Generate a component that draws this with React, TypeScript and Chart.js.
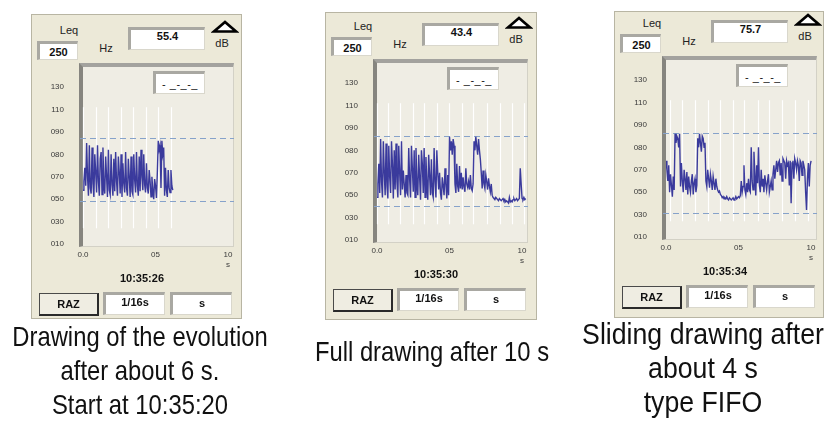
import React, { useEffect, useRef } from 'react';
import { Chart, registerables } from 'chart.js';

Chart.register(...registerables);

// ---------------- data ----------------
const Y_TICK_LABELS = ['010', '030', '050', '070', '080', '090', '110', '130'];
const Y_TICK_DB = [10, 30, 50, 70, 80, 90, 110, 130];
const X_TICKS = [0, 5, 10];
const X_TICK_LABELS: (string | string[])[] = ['0.0', '05', ['10', 's']];
const SAMPLE_STEP = 1 / 16; // seconds between samples (1/16 s)

// Leq (dB) read from the three screens
const LEQ_6S = [
  58, 66, 74,
  62, 85, 70, 53, 84, 60, 55, 83, 64,
  52, 80, 72, 56, 84, 66, 53, 78, 81, 54, 83, 62, 55, 79, 70, 52, 82, 58,
  54, 80, 63, 53, 78,
  57, 81, 66, 53, 79, 72, 55, 80, 52, 76, 64, 56, 81, 60, 53, 78, 70, 52, 79, 57, 54, 80, 67, 56, 81, 62, 53,
  79, 57, 82, 70, 58, 80, 63, 56,
  76, 60, 55, 73, 66, 52, 70, 58, 50, 68, 62, 51, 72,
  86, 82, 84, 60, 86, 80, 83, 53,
  74, 58, 52, 73, 60,
  56, 73, 62, 58,
];
const LEQ_10S = [
  48, 60, 74, 52,
  85, 62, 48, 84, 70, 50, 83, 58,
  47, 82, 66, 52, 84, 74, 47, 80, 55, 83, 62, 48, 82, 70, 50, 84,
  55, 71, 60, 48, 68, 52,
  50, 81, 64, 48, 82, 72, 53, 80, 48, 81, 60, 50, 78, 66, 46, 80, 74, 52, 81,
  48, 77, 60, 46, 78, 68, 50, 76, 52, 48,
  81, 62, 48, 80, 70, 55,
  70, 52, 46, 66, 58, 50, 72, 60, 47, 68, 50,
  86, 80, 84, 78, 85, 82, 60, 52,
  74, 58, 53, 73, 56,
  70, 55, 66, 57, 53, 72, 60, 57, 62, 55, 68, 56, 54, 60,
  84, 80, 86, 82, 78, 85, 80, 76, 70, 56,
  71, 60, 56, 68, 62, 55, 65, 58, 53, 60, 50,
  48, 47, 46, 48, 47, 46, 45, 47, 46, 45, 46, 47, 45, 46, 44, 45,
  44, 43, 48, 44, 45, 44,
  46, 47, 45, 46, 47, 45, 46, 47,
  72, 60, 47, 46, 48, 46, 47,
];
const LEQ_FIFO = [
  74, 70,
  60, 72, 50, 66, 56, 46, 64, 52,
  86, 82, 85, 84, 80, 86,
  55, 73, 60, 50, 70, 62, 52, 68,
  48, 64, 55, 50, 60, 66, 48, 58, 62, 50, 56,
  84, 80, 86, 82, 78, 85, 84, 80, 82, 60, 55,
  70, 62, 54, 66, 60, 52, 64, 58, 52, 62, 55,
  52, 50, 51, 48, 47,
  45, 46, 44, 45, 44, 46, 44, 43, 45, 44, 43, 44, 45, 43, 44, 46, 44, 45,
  46, 45, 47,
  60, 50, 55, 72, 52, 48, 58, 50, 62, 52, 50,
  80, 60, 52, 78, 66, 47, 72, 58, 80, 56, 50,
  70, 55, 62, 50, 65, 58, 52, 60, 66, 50, 55, 60, 52,
  66, 72, 62, 70, 74, 68,
  73, 74, 65, 73, 60, 75, 74, 73, 62, 74, 72, 73, 56, 74, 40, 73, 74, 62, 75, 73, 70, 74, 72, 60, 74, 73, 65, 74, 72, 70,
  50, 34, 62, 73, 55, 72, 74,
];

// white vertical trace marks (seconds)
const GRID_6S = [0.02, 0.88, 1.74, 2.6, 3.47, 4.32, 5.19, 6.05];
const GRID_10S = [0, 0.79, 1.57, 2.48, 3.26, 4.17, 4.95, 5.86, 6.64, 7.55, 8.45, 9.34, 10.14];
const GRID_FIFO = [0.27, 1.08, 1.99, 2.91, 3.72, 4.59, 5.41, 6.35, 7.09, 8.0, 8.92, 9.76];
const GRID_DB_RANGE = [24, 112];

// dashed limit lines (dB)
const LIMITS_6S = [87.3, 48.2];
const LIMITS_10S = [86.4, 40.3];
const LIMITS_FIFO = [86.4, 31.8];

const FREQS = ['250', '250', '250'];
const VALUES = ['55.4', '43.4', '75.7'];
const CLOCKS = ['10:35:26', '10:35:30', '10:35:34'];
const CAPTIONS = [
  ['Drawing of the evolution', 'after about 6 s.', 'Start at 10:35:20'],
  ['Full drawing after 10 s'],
  ['Sliding drawing after', 'about 4 s', 'type FIFO'],
];

// ---------------- layout ----------------
const CW = 211;
const CH = 262;
const AREA = { left: 52, top: 52, right: 202, bottom: 232 };
const Y_MIN = -0.09;
const Y_MAX = 7.94;
const X_MAX = 10.34;
const PANEL_BG = '#ECE9D8';
const UI_FONT = '"Liberation Sans", Arial, sans-serif';

type PanelCfg = {
  cx: number; cy: number; box: number[];
  leq: number[]; grid: number[]; limits: number[];
  freq: string; value: string; clock: string;
};

const PANELS: PanelCfg[] = [
  { cx: 31, cy: 14, box: [31, 14, 211, 305], leq: LEQ_6S, grid: GRID_6S, limits: LIMITS_6S, freq: FREQS[0], value: VALUES[0], clock: CLOCKS[0] },
  { cx: 325, cy: 10, box: [325, 12, 212, 308], leq: LEQ_10S, grid: GRID_10S, limits: LIMITS_10S, freq: FREQS[1], value: VALUES[1], clock: CLOCKS[1] },
  { cx: 614, cy: 7, box: [614, 11, 210, 307], leq: LEQ_FIFO, grid: GRID_FIFO, limits: LIMITS_FIFO, freq: FREQS[2], value: VALUES[2], clock: CLOCKS[2] },
];

const CAPTION_STYLE = [
  { x: 140, y: 320, size: 28, sx: 0.85 },
  { x: 432, y: 335, size: 28, sx: 0.85 },
  { x: 703, y: 317, size: 29, sx: 0.92 },
];

function toAxis(db: number): number {
  for (let i = 1; i < Y_TICK_DB.length; i++) {
    if (db <= Y_TICK_DB[i] || i === Y_TICK_DB.length - 1) {
      const a = Y_TICK_DB[i - 1];
      const b = Y_TICK_DB[i];
      return i - 1 + (db - a) / (b - a);
    }
  }
  return 0;
}

const decorPlugin = {
  id: 'deviceDecor',
  beforeDatasetsDraw(chart: any, _args: any, opts: any) {
    const { ctx, chartArea } = chart;
    const x = chart.scales.x;
    const y = chart.scales.y;
    ctx.save();
    ctx.strokeStyle = '#FFFFFF';
    ctx.lineWidth = 1.2;
    const yTop = y.getPixelForValue(toAxis(GRID_DB_RANGE[1]));
    const yBot = y.getPixelForValue(toAxis(GRID_DB_RANGE[0]));
    (opts.grid || []).forEach((t: number) => {
      const px = Math.round(x.getPixelForValue(t)) + 0.5;
      ctx.beginPath();
      ctx.moveTo(px, yTop);
      ctx.lineTo(px, yBot);
      ctx.stroke();
    });
    ctx.setLineDash([6, 4]);
    ctx.strokeStyle = '#86A2CA';
    ctx.lineWidth = 1.2;
    (opts.limits || []).forEach((v: number) => {
      const py = Math.round(y.getPixelForValue(toAxis(v))) + 0.5;
      ctx.beginPath();
      ctx.moveTo(chartArea.left - 3, py);
      ctx.lineTo(chartArea.right + 1, py);
      ctx.stroke();
    });
    ctx.restore();
  },
};

const abs = (x: number, y: number, w: number, h: number, extra: any = {}): any => ({
  position: 'absolute', left: x, top: y, width: w, height: h, boxSizing: 'border-box', ...extra,
});

const sunken = (x: number, y: number, w: number, h: number, extra: any = {}) =>
  abs(x, y, w, h, {
    background: '#FFFFFF',
    borderTop: '3px solid #A9A8A2',
    borderLeft: '3px solid #A9A8A2',
    borderRight: '1px solid #D9D7CC',
    borderBottom: '1px solid #D9D7CC',
    display: 'flex',
    justifyContent: 'center',
    fontFamily: UI_FONT,
    fontWeight: 'bold',
    fontSize: 11,
    color: '#111',
    ...extra,
  });

function Text({ x, y, children, style }: any) {
  return (
    <div style={{ position: 'absolute', left: x - 60, top: y - 8, width: 120, height: 16, lineHeight: '16px', textAlign: 'center', fontFamily: UI_FONT, fontSize: 11, color: '#222', whiteSpace: 'nowrap', ...style }}>
      {children}
    </div>
  );
}

function Panel({ p }: { p: PanelCfg }) {
  const ref = useRef<HTMLCanvasElement>(null);
  useEffect(() => {
    const points = p.leq.map((v, i) => ({ x: i * SAMPLE_STEP, y: toAxis(v) }));
    const tickFont = { family: UI_FONT, size: 8 };
    const chart = new Chart(ref.current as HTMLCanvasElement, {
      type: 'line',
      data: {
        datasets: [
          {
            data: points,
            borderColor: 'rgba(18,18,140,0.82)',
            borderWidth: 1.4,
            pointRadius: 0,
            tension: 0,
            fill: false,
          },
        ],
      },
      options: {
        animation: false,
        responsive: false,
        devicePixelRatio: 1,
        layout: { padding: { left: 0, right: CW - AREA.right, top: AREA.top, bottom: 0 } },
        plugins: {
          legend: { display: false },
          tooltip: { enabled: false },
          deviceDecor: { grid: p.grid, limits: p.limits },
        } as any,
        scales: {
          x: {
            type: 'linear',
            min: 0,
            max: X_MAX,
            grid: { display: false, drawTicks: false },
            border: { display: false },
            afterBuildTicks: (s: any) => { s.ticks = X_TICKS.map((v) => ({ value: v })); },
            afterFit: (s: any) => { s.height = CH - AREA.bottom; },
            ticks: {
              autoSkip: false,
              maxRotation: 0,
              padding: 4,
              color: '#3A3A3A',
              font: tickFont,
              callback: (_v: any, i: number) => X_TICK_LABELS[i],
            },
          },
          y: {
            type: 'linear',
            min: Y_MIN,
            max: Y_MAX,
            grid: { display: false, drawTicks: false },
            border: { display: false },
            afterBuildTicks: (s: any) => { s.ticks = Y_TICK_LABELS.map((_l, i) => ({ value: i })); },
            afterFit: (s: any) => { s.width = AREA.left; },
            ticks: {
              autoSkip: false,
              padding: 19,
              color: '#3A3A3A',
              font: tickFont,
              callback: (v: any) => Y_TICK_LABELS[Math.round(Number(v))],
            },
          },
        },
      } as any,
      plugins: [decorPlugin as any],
    });
    return () => chart.destroy();
  }, [p]);

  return (
    <>
      <div style={abs(p.box[0], p.box[1], p.box[2], p.box[3], { background: PANEL_BG, border: '1px solid #B8B5A3' })} />
      <div style={{ position: 'absolute', left: p.cx, top: p.cy, width: CW, height: 312 }}>
        <Text x={38} y={16}>Leq</Text>
        <div style={sunken(6, 27, 41, 19, { alignItems: 'center' })}>{p.freq}</div>
        <Text x={75} y={34}>Hz</Text>
        <div style={sunken(97, 13, 77, 23, { alignItems: 'flex-start', lineHeight: '13px' })}>{p.value}</div>
        <svg style={{ position: 'absolute', left: 180, top: 6 }} width={28} height={14}>
          <polygon points="14,2 3,11.5 25,11.5" fill="#FFFFFF" stroke="#000000" strokeWidth={2.6} strokeLinejoin="miter" />
        </svg>
        <Text x={191} y={29}>dB</Text>
        <div style={abs(48, 49, 155, 184, {
          background: '#EFEDE4',
          borderTop: '4px solid #A3A29E',
          borderLeft: '4px solid #86857F',
          borderRight: '1px solid #D3D1C6',
          borderBottom: '1px solid #D3D1C6',
        })} />
        <canvas ref={ref} width={CW} height={CH} style={{ position: 'absolute', left: 0, top: 0, width: CW, height: CH }} />
        <div style={sunken(122, 57, 52, 23, { alignItems: 'center', fontWeight: 'normal', fontSize: 11, letterSpacing: 0.5 })}>- _-_-_</div>
        <Text x={111} y={264} style={{ fontWeight: 'bold', color: '#111' }}>{p.clock}</Text>
        <div style={abs(8, 279, 60, 23, {
          background: '#EFEDE2',
          borderTop: '1px solid #4A4A4A',
          borderLeft: '1px solid #4A4A4A',
          borderRight: '2px solid #2A2A2A',
          borderBottom: '2px solid #2A2A2A',
          display: 'flex', alignItems: 'center', justifyContent: 'center',
          fontFamily: UI_FONT, fontWeight: 'bold', fontSize: 11, color: '#111',
        })}>RAZ</div>
        <div style={sunken(72, 278, 62, 23, { alignItems: 'flex-start', lineHeight: '15px' })}>1/16s</div>
        <div style={sunken(139, 278, 62, 23, { alignItems: 'flex-start', lineHeight: '16px' })}>s</div>
      </div>
    </>
  );
}

export default function App() {
  return (
    <div style={{ position: 'fixed', left: 0, top: 0, width: 839, height: 421, background: '#FFFFFF', overflow: 'hidden' }}>
      {PANELS.map((p, i) => (
        <Panel key={i} p={p} />
      ))}
      {CAPTIONS.map((lines, i) => (
        <div key={i} style={{
          position: 'absolute', left: CAPTION_STYLE[i].x - 200, top: CAPTION_STYLE[i].y, width: 400,
          textAlign: 'center', fontFamily: '"Liberation Sans", Arial, sans-serif',
          fontSize: CAPTION_STYLE[i].size, lineHeight: '34px', color: '#111', whiteSpace: 'nowrap',
        }}>
          {lines.map((l, j) => (
            <div key={j} style={{ transform: `scaleX(${CAPTION_STYLE[i].sx})`, transformOrigin: 'center' }}>{l}</div>
          ))}
        </div>
      ))}
    </div>
  );
}
